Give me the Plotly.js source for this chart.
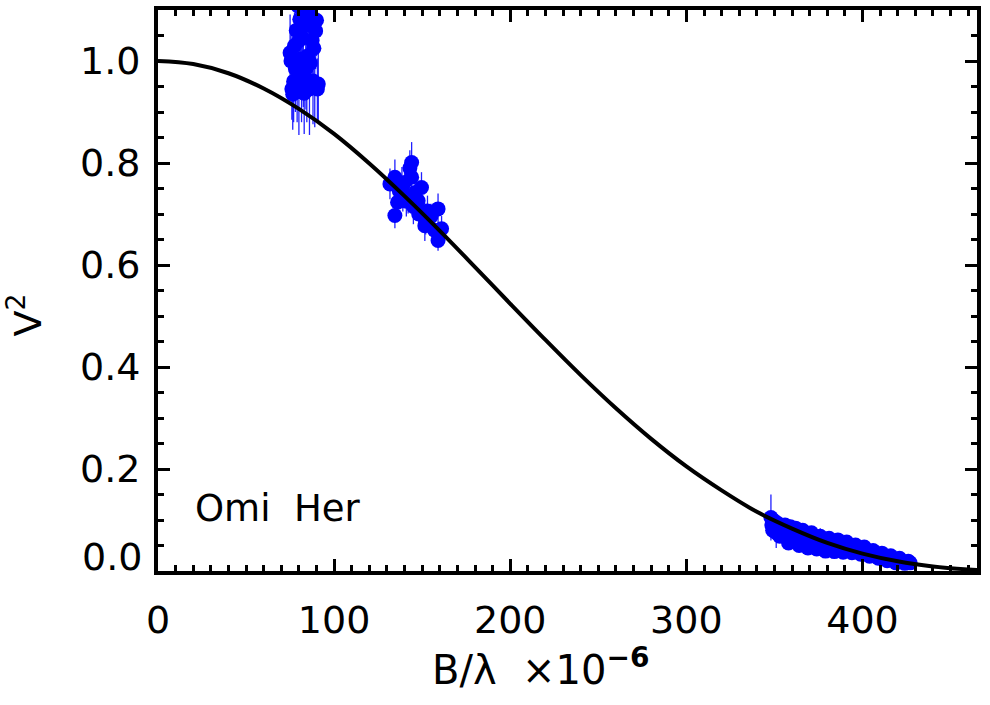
<!DOCTYPE html>
<html>
<head>
<meta charset="utf-8">
<script src="https://cdn.plot.ly/plotly-3.0.1.min.js"></script>
<style>html,body{margin:0;padding:0;background:#fff;}#chart{width:990px;height:705px;}</style>
</head>
<body>
<div id="chart"></div>
<script>
// Model curve
const curveX = [0, 20, 40, 60, 80, 100, 120, 140, 160, 180, 200, 220, 240, 260, 280, 300, 320, 340, 360, 380, 400, 420, 440, 460, 465];
const curveV = [1.000, 0.994, 0.976, 0.946, 0.906, 0.857, 0.799, 0.735, 0.667, 0.596, 0.524, 0.453, 0.384, 0.319, 0.259, 0.205, 0.158, 0.116, 0.083, 0.055, 0.034, 0.019, 0.009, 0.003, 0.002];

// Measurements: short baselines
const grp1X = [75.0, 75.5, 76.0, 76.5, 77.0, 77.5, 78.0, 78.5, 79.0, 79.5, 80.0, 80.5, 81.0, 81.5, 82.0, 82.5, 83.0, 83.5, 84.0, 84.5, 85.0, 85.5, 86.0, 86.5, 87.0, 87.5, 88.0, 88.5, 89.0, 89.5, 90.0, 90.5, 91.0, 84.0, 80.0];
const grp1V = [1.016, 1.000, 0.945, 0.935, 0.960, 1.030, 0.985, 1.060, 0.950, 1.108, 0.940, 1.082, 1.004, 0.970, 1.045, 0.990, 0.937, 1.120, 1.070, 0.960, 1.010, 1.100, 0.945, 0.996, 1.090, 1.040, 0.961, 1.025, 0.950, 1.059, 1.080, 0.945, 0.955, 0.985, 1.040];
const grp1E = [0.075, 0.070, 0.060, 0.070, 0.080, 0.065, 0.085, 0.080, 0.070, 0.075, 0.085, 0.070, 0.080, 0.090, 0.075, 0.080, 0.080, 0.070, 0.075, 0.080, 0.085, 0.070, 0.090, 0.065, 0.080, 0.075, 0.085, 0.070, 0.080, 0.075, 0.070, 0.060, 0.075, 0.080, 0.070];

// Measurements: middle baselines
const grp2X = [144.0, 134.5, 131.7, 136.0, 134.5, 142.0, 149.6, 147.7, 159.0, 153.0, 151.5, 161.0, 159.0, 146.0, 138.5, 144.0, 137.0, 140.0, 141.0, 145.0, 148.0, 152.0, 155.0, 157.0, 143.0, 139.0];
const grp2V = [0.801, 0.772, 0.759, 0.723, 0.697, 0.736, 0.752, 0.726, 0.710, 0.706, 0.677, 0.671, 0.648, 0.742, 0.752, 0.772, 0.745, 0.762, 0.725, 0.715, 0.700, 0.690, 0.695, 0.668, 0.790, 0.735];
const grp2E = [0.040, 0.035, 0.030, 0.035, 0.025, 0.035, 0.030, 0.035, 0.030, 0.030, 0.030, 0.025, 0.020, 0.035, 0.040, 0.035, 0.035, 0.030, 0.030, 0.035, 0.030, 0.030, 0.025, 0.025, 0.035, 0.030];

// Measurements: long baselines
const grp3X = [348, 348.5, 349, 350, 351, 352, 353, 355, 356, 358, 359, 361, 362, 364, 366, 367, 369, 371, 372, 374, 376, 377, 379, 381, 382, 384, 386, 387, 389, 391, 392, 394, 396, 397, 399, 401, 402, 404, 406, 407, 409, 411, 412, 414, 416, 417, 419, 421, 422, 424, 426, 427];
const grp3V = [0.105, 0.090, 0.080, 0.098, 0.075, 0.093, 0.068, 0.080, 0.090, 0.055, 0.087, 0.068, 0.084, 0.050, 0.080, 0.062, 0.045, 0.075, 0.058, 0.043, 0.068, 0.052, 0.039, 0.064, 0.048, 0.038, 0.061, 0.047, 0.037, 0.057, 0.045, 0.036, 0.051, 0.042, 0.033, 0.047, 0.038, 0.029, 0.040, 0.033, 0.025, 0.035, 0.028, 0.020, 0.030, 0.023, 0.016, 0.025, 0.018, 0.015, 0.019, 0.016];
const grp3E = [0.045, 0.008, 0.008, 0.008, 0.030, 0.008, 0.008, 0.008, 0.008, 0.008, 0.008, 0.008, 0.008, 0.006, 0.008, 0.006, 0.006, 0.006, 0.006, 0.006, 0.016, 0.006, 0.006, 0.006, 0.006, 0.006, 0.006, 0.006, 0.006, 0.006, 0.006, 0.006, 0.006, 0.006, 0.006, 0.006, 0.006, 0.005, 0.005, 0.005, 0.005, 0.005, 0.005, 0.005, 0.005, 0.005, 0.005, 0.005, 0.005, 0.005, 0.005, 0.005];

const yTickVals = [0.2, 0.4, 0.6, 0.8, 1.0];
const yTickText = ['0.2', '0.4', '0.6', '0.8', '1.0'];
const xTickVals = [0, 100, 200, 300, 400];

const FONT = 'DejaVu Sans, sans-serif';

function pts(x, v, e) {
  return {
    x: x, y: v, type: 'scatter', mode: 'markers',
    marker: {color: '#0000ff', size: 15, line: {width: 0}},
    error_y: {type: 'data', array: e, visible: true, color: '#2020ff', thickness: 1.3, width: 0},
    hoverinfo: 'skip', showlegend: false
  };
}

const traces = [
  pts(grp1X, grp1V, grp1E),
  pts(grp2X, grp2V, grp2E),
  pts(grp3X, grp3V, grp3E),
  {x: curveX, y: curveV, type: 'scatter', mode: 'lines',
   line: {color: '#000', width: 4, shape: 'spline', smoothing: 1}, showlegend: false, hoverinfo: 'skip'}
];

const axisCommon = {
  showline: true, linecolor: '#000', linewidth: 4, mirror: 'ticks',
  ticks: 'inside', tickcolor: '#000', tickwidth: 3, ticklen: 12,
  showgrid: false, zeroline: false,
  tickfont: {family: FONT, size: 38, color: '#000'}
};

const layout = {
  width: 990, height: 705,
  margin: {l: 158, r: 13, t: 10, b: 134},
  paper_bgcolor: '#fff', plot_bgcolor: '#fff',
  showlegend: false,
  xaxis: Object.assign({}, axisCommon, {
    range: [0, 465], tickmode: 'array', tickvals: xTickVals,
    ticklabelstandoff: 12,
    minor: {dtick: 10, tick0: 0, ticks: 'inside', ticklen: 6, tickwidth: 3, tickcolor: '#000', showgrid: false}
  }),
  yaxis: Object.assign({}, axisCommon, {
    range: [0, 1.1], tickmode: 'array', tickvals: yTickVals, ticktext: yTickText,
    ticklabelstandoff: 6,
    minor: {dtick: 0.05, tick0: 0, ticks: 'inside', ticklen: 6, tickwidth: 3, tickcolor: '#000', showgrid: false}
  }),
  annotations: [
    {text: '0.0', xref: 'paper', yref: 'y', x: 0, y: 0, xanchor: 'right', yanchor: 'bottom',
     xshift: -14, yshift: -10, showarrow: false, font: {family: FONT, size: 38, color: '#000'}},
    {text: 'B/λ  ×10<sup><b>−6</b></sup>', xref: 'paper', yref: 'paper', x: 0.4676, y: -0.172,
     xanchor: 'center', yanchor: 'middle', showarrow: false, font: {family: FONT, size: 40, color: '#000'}},
    {text: 'V<sup>2</sup>', xref: 'paper', yref: 'paper', x: -0.162, y: 0.456, textangle: -90,
     xanchor: 'center', yanchor: 'middle', showarrow: false, font: {family: FONT, size: 38, color: '#000'}},
    {text: 'Omi  Her', xref: 'paper', yref: 'paper', x: (278 - 158) / 819, y: (571 - 508) / 561,
     xanchor: 'center', yanchor: 'middle', showarrow: false, font: {family: FONT, size: 37, color: '#000'}}
  ]
};

Plotly.newPlot('chart', traces, layout, {displayModeBar: false, staticPlot: true});
</script>
</body>
</html>
